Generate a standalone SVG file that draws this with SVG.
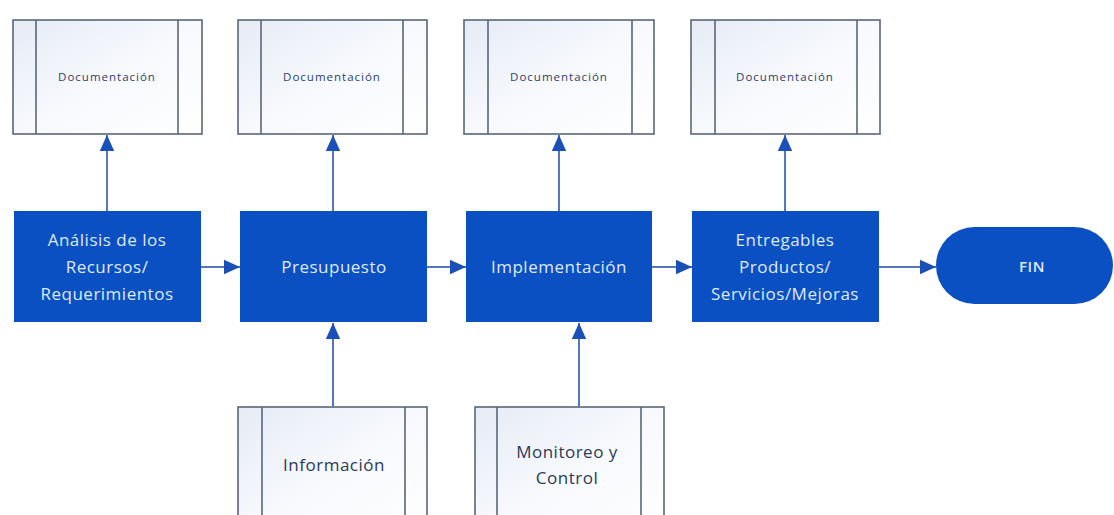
<svg xmlns="http://www.w3.org/2000/svg" width="1114" height="515" viewBox="0 0 1114 515">
<defs>
<linearGradient id="docg" x1="0" y1="0" x2="1" y2="1">
<stop offset="0" stop-color="#e6ebf5"/>
<stop offset="0.5" stop-color="#f7f9fd"/>
<stop offset="1" stop-color="#ffffff"/>
</linearGradient>
<marker id="ahb" viewBox="0 0 10 10" refX="10" refY="5" markerWidth="16" markerHeight="16" markerUnits="userSpaceOnUse" orient="auto">
<path d="M0,0.5 L10,5 L0,9.5 z" fill="#1a50b8"/>
</marker>
</defs>
<style>
.doc{fill:url(#docg);stroke:#5a6678;stroke-width:1.6}
.side{stroke:#5a6678;stroke-width:1.6;fill:none}
.blue{fill:#0a50c2}
.wt{font-family:"Open Sans","Noto Sans",sans-serif;font-size:17px;letter-spacing:0.5px;fill:#dfeaff;text-anchor:middle}
.dt{font-family:"Open Sans","Noto Sans",sans-serif;font-size:11.5px;letter-spacing:1px;fill:#2b3f6e;text-anchor:middle}
.bt{font-family:"Open Sans","Noto Sans",sans-serif;font-size:17px;letter-spacing:0.5px;fill:#2b3a58;text-anchor:middle}
.con{stroke:#5877b8;stroke-width:2;fill:none;marker-end:url(#ahb)}
</style>
<rect width="1114" height="515" fill="#ffffff"/>
<g id="doc1"><rect class="doc" x="13" y="20" width="189" height="114"/><line class="side" x1="36" y1="20" x2="36" y2="134"/><line class="side" x1="178" y1="20" x2="178" y2="134"/><text class="dt" x="107" y="81">Documentación</text></g>
<g id="doc2"><rect class="doc" x="238" y="20" width="189" height="114"/><line class="side" x1="261" y1="20" x2="261" y2="134"/><line class="side" x1="403" y1="20" x2="403" y2="134"/><text class="dt" x="332" y="81">Documentación</text></g>
<g id="doc3"><rect class="doc" x="464" y="20" width="190" height="114"/><line class="side" x1="488" y1="20" x2="488" y2="134"/><line class="side" x1="632" y1="20" x2="632" y2="134"/><text class="dt" x="559" y="81">Documentación</text></g>
<g id="doc4"><rect class="doc" x="691" y="20" width="189" height="114"/><line class="side" x1="715" y1="20" x2="715" y2="134"/><line class="side" x1="857" y1="20" x2="857" y2="134"/><text class="dt" x="785" y="81">Documentación</text></g>
<g id="analisis"><rect class="blue" x="14" y="211" width="187" height="111"/><text class="wt" x="107" y="246">Análisis de los</text><text class="wt" x="107" y="273">Recursos/</text><text class="wt" x="107" y="300">Requerimientos</text></g>
<g id="presupuesto"><rect class="blue" x="240" y="211" width="187" height="111"/><text class="wt" x="334" y="273">Presupuesto</text></g>
<g id="implementacion"><rect class="blue" x="466" y="211" width="186" height="111"/><text class="wt" x="559" y="273">Implementación</text></g>
<g id="entregables"><rect class="blue" x="692" y="211" width="187" height="111"/><text class="wt" x="785" y="246">Entregables</text><text class="wt" x="785" y="273">Productos/</text><text class="wt" x="785" y="300">Servicios/Mejoras</text></g>
<g id="fin"><rect class="blue" x="936" y="227" width="177" height="77" rx="38.5" ry="38.5"/><text class="wt" x="1032" y="272" font-weight="600" style="font-size:15px">FIN</text></g>
<g id="informacion"><rect class="doc" x="238" y="407" width="189" height="130"/><line class="side" x1="262" y1="407" x2="262" y2="537"/><line class="side" x1="405" y1="407" x2="405" y2="537"/><text class="bt" x="334" y="471">Información</text></g>
<g id="monitoreo"><rect class="doc" x="475" y="407" width="189" height="130"/><line class="side" x1="497" y1="407" x2="497" y2="537"/><line class="side" x1="641" y1="407" x2="641" y2="537"/><text class="bt" x="567" y="458">Monitoreo y</text><text class="bt" x="567" y="484">Control</text></g>
<g id="connectors">
<line class="con" x1="107" y1="211" x2="107" y2="135"/>
<line class="con" x1="333" y1="211" x2="333" y2="135"/>
<line class="con" x1="559" y1="211" x2="559" y2="135"/>
<line class="con" x1="785" y1="211" x2="785" y2="135"/>
<line class="con" x1="201" y1="267" x2="240" y2="267"/>
<line class="con" x1="427" y1="267" x2="466" y2="267"/>
<line class="con" x1="652" y1="267" x2="692" y2="267"/>
<line class="con" x1="879" y1="267" x2="936" y2="267"/>
<line class="con" x1="333" y1="407" x2="333" y2="323"/>
<line class="con" x1="579" y1="407" x2="579" y2="323"/>
</g>
</svg>
